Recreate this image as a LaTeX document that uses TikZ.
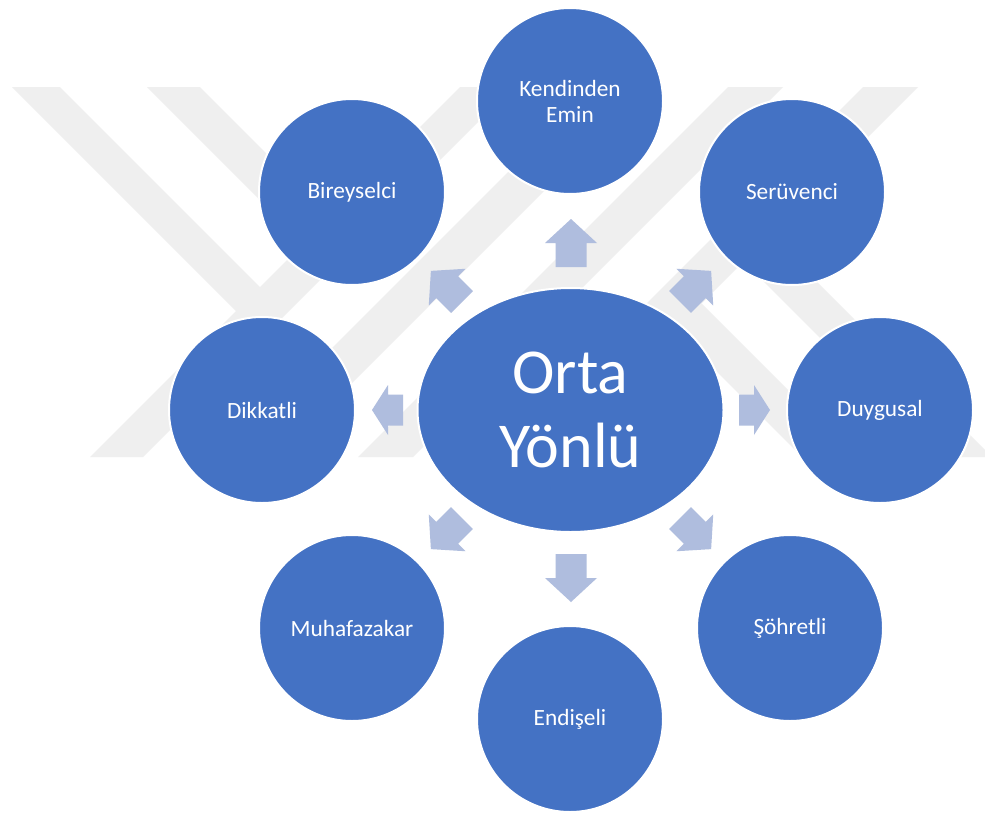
\documentclass[tikz,border=0pt]{standalone}
\usepackage{fontspec}
\setmainfont{Carlito}
\usetikzlibrary{shapes.geometric}
\definecolor{nodeblue}{HTML}{4472C4}
\definecolor{arrowblue}{RGB}{175,189,222}
\definecolor{wmgrey}{RGB}{239,239,239}
\tikzset{
  circ/.style={circle, fill=nodeblue, draw=white, line width=2pt, minimum size=186pt,
    inner sep=0pt, text=white, align=center, font=\fontsize{23.3}{26}\selectfont},
  centre/.style={ellipse, fill=nodeblue, draw=white, line width=2pt, minimum width=306pt,
    minimum height=244pt, inner sep=0pt, text=white, align=center, font=\fontsize{64}{74}\selectfont},
  arrowfill/.style={fill=arrowblue},
  wm/.style={fill=wmgrey}
}
\newcommand\blockarrow[5]{%
  \fill[arrowfill, shift={(#1)}, rotate=#2]
    (0,-15.5) -- ({#3-#4},-15.5) -- ({#3-#4},-#5) -- (#3,0) -- ({#3-#4},#5)
    -- ({#3-#4},15.5) -- (0,15.5) -- cycle;}
\begin{document}
\begin{tikzpicture}[x=1pt,y=-1pt]
\useasboundingbox (0,0) rectangle (985,817);
\fill[white] (0,0) rectangle (985,817);
% watermark
\fill[wm] (12,87) -- (60,87) -- (266.5,293.5) -- (242.5,317.5) -- cycle;
\fill[wm] (147,87) -- (200,87) -- (336.5,223.5) -- (310,250) -- cycle;
\fill[wm] (460,87) -- (513,87) -- (143,457) -- (90,457) -- cycle;
\fill[wm] (593,87) -- (648,87) -- (278,457) -- (223,457) -- cycle;
\fill[wm] (728,87) -- (783,87) -- (413,457) -- (358,457) -- cycle;
\fill[wm] (863,87) -- (918,87) -- (548,457) -- (493,457) -- cycle;
\fill[wm] (667.5,322.5) -- (694,296) -- (855,457) -- (802,457) -- cycle;
\fill[wm] (736,254) -- (762.5,227.5) -- (985,450) -- (985,457) -- (939,457) -- cycle;
% arrows
\coordinate (tU) at (571,267);
\coordinate (tD) at (571,554);
\coordinate (tL) at (403,410);
\coordinate (tR) at (739,410);
\coordinate (tUL) at (462,302);
\coordinate (tUR) at (680,302);
\coordinate (tDL) at (462,518);
\coordinate (tDR) at (680,518);
\blockarrow{tU}{90}{48}{24}{26}
\blockarrow{tD}{270}{48}{24}{26}
\blockarrow{tL}{180}{31}{16}{25}
\blockarrow{tR}{0}{31}{16}{25}
\blockarrow{tUL}{135}{44}{23}{26}
\blockarrow{tUR}{45}{44}{23}{26}
\blockarrow{tDL}{225}{44}{23}{26}
\blockarrow{tDR}{315}{44}{23}{26}
% nodes
\node[centre] (orta) at (570.5,410) {Orta\\Yönlü};
\node[circ] (kend) at (570,101) {Kendinden\\Emin};
\node[circ] (birey) at (352,192) {Bireyselci};
\node[circ] (seru) at (792,192) {Serüvenci};
\node[circ] (dikk) at (262,410) {Dikkatli};
\node[circ] (duyg) at (880,410) {Duygusal};
\node[circ] (muha) at (352,628) {Muhafazakar};
\node[circ] (sohr) at (790,628) {Şöhretli};
\node[circ] (endi) at (570,719) {Endişeli};
\end{tikzpicture}
\end{document}
